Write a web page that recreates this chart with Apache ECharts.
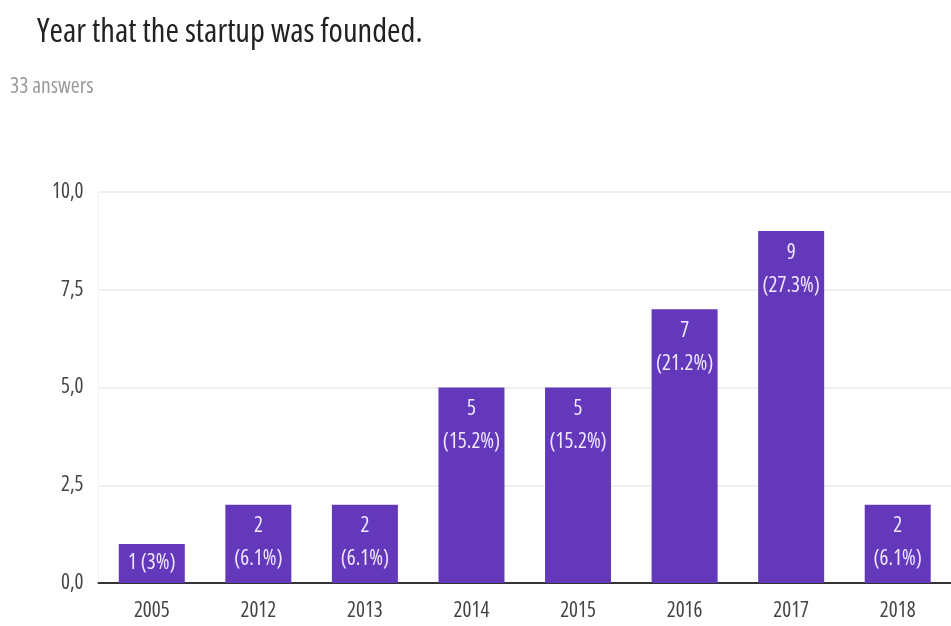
<!DOCTYPE html>
<html>
<head>
<meta charset="utf-8">
<script src="https://cdn.jsdelivr.net/npm/echarts@6/dist/echarts.min.js"></script>
<style>
  html, body { margin: 0; padding: 0; background: #fff; }
  #chart { width: 951px; height: 626px; }
</style>
</head>
<body>
<div id="chart"></div>
<script>
// Survey question: founding year of each startup
const years = ['2005', '2012', '2013', '2014', '2015', '2016', '2017', '2018'];
const counts = [1, 2, 2, 5, 5, 7, 9, 2];
const totalAnswers = 33;
const yTicks = [0, 2.5, 5, 7.5, 10];

// narrow face of Open Sans, picked through the font-stretch keyword
const FONT = '"Open Sans", sans-serif';
const NARROW = 'condensed';

function pct(v) {
  const p = (v / totalAnswers * 100).toFixed(1);
  return p.endsWith('.0') ? p.slice(0, -2) : p;
}

// short bars get a single centred line, the rest two lines at the top
const barData = counts.map(function (v) {
  const item = { value: v };
  if (v < 1.5) {
    item.label = { position: 'inside', formatter: v + ' (' + pct(v) + '%)' };
  }
  return item;
});

const chart = echarts.init(document.getElementById('chart'), null, { renderer: 'canvas' });
chart.setOption({
  animation: false,
  backgroundColor: '#ffffff',
  title: [
    {
      text: 'Year that the startup was founded.',
      left: 32, top: 11,
      textStyle: { fontFamily: FONT, fontSize: 32.5, fontWeight: NARROW, color: '#222' }
    },
    {
      text: totalAnswers + ' answers',
      left: 5, top: 71,
      textStyle: { fontFamily: FONT, fontSize: 21.5, fontWeight: NARROW, color: '#999' }
    }
  ],
  grid: { left: 98.5, right: -3.5, top: 192, bottom: 43, containLabel: false },
  xAxis: {
    type: 'category',
    data: years,
    axisTick: { show: false },
    axisLine: { lineStyle: { color: '#333', width: 2 } },
    axisLabel: { fontFamily: FONT, fontWeight: NARROW, fontSize: 21, color: '#444', margin: 18 }
  },
  yAxis: {
    type: 'value',
    min: yTicks[0],
    max: yTicks[yTicks.length - 1],
    interval: 2.5,
    axisLine: { show: true, lineStyle: { color: '#f2f2f2' } },
    axisTick: { show: false },
    splitLine: { lineStyle: { color: '#efefef', width: 2 } },
    axisLabel: {
      fontFamily: FONT, fontWeight: NARROW, fontSize: 21, color: '#444', margin: 15,
      formatter: function (v) { return v.toFixed(1).replace('.', ','); }
    }
  },
  series: [{
    type: 'bar',
    data: barData,
    barWidth: 66,
    itemStyle: { color: '#6338bb' },
    label: {
      show: true,
      position: 'insideTop',
      distance: 5,
      color: '#efe8ff',
      fontFamily: FONT,
      fontWeight: NARROW,
      fontSize: 21,
      lineHeight: 33,
      formatter: function (p) { return p.value + '\n(' + pct(p.value) + '%)'; }
    }
  }]
});
</script>
</body>
</html>
